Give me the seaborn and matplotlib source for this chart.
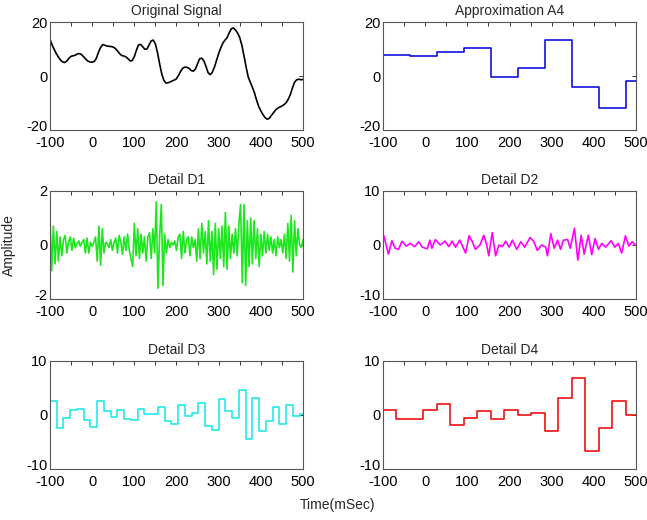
import numpy as np
import pandas as pd
import matplotlib
matplotlib.use("Agg")
import matplotlib.pyplot as plt
import matplotlib.transforms as mtransforms
import seaborn as sns

# ---------------- data ----------------
orig_t = [-100, -95, -90, -85, -80, -75, -70, -65, -60, -55, -50, -45, -40, -35, -30, -25,
          -20, -15, -10, -5, 0, 5, 10, 15, 20, 25, 30, 35, 40, 45, 50, 55, 60, 65, 70, 75,
          80, 85, 90, 95, 100, 105, 110, 115, 120, 125, 130, 135, 140, 145, 150, 155, 160,
          165, 170, 175, 180, 185, 190, 195, 200, 205, 210, 215, 220, 225, 230, 235, 240,
          245, 250, 255, 260, 265, 270, 275, 280, 285, 290, 295, 300, 305, 310, 315, 320,
          325, 330, 335, 340, 345, 350, 355, 360, 365, 370, 375, 380, 385, 390, 395, 400,
          405, 410, 415, 420, 425, 430, 435, 440, 445, 450, 455, 460, 465, 470, 475, 480,
          485, 490, 495, 500]
orig_v = [13.6, 11.5, 9.8, 8.3, 7.0, 5.9, 5.2, 5.0, 5.6, 6.6, 7.3, 7.5, 7.7, 8.2, 8.3, 7.9,
          7.1, 6.2, 5.5, 5.2, 5.1, 5.4, 6.6, 8.8, 10.6, 11.6, 11.4, 11.1, 11.0, 10.9, 10.7,
          10.2, 9.3, 8.3, 7.6, 7.4, 7.1, 6.4, 5.6, 5.7, 7.2, 9.6, 11.5, 11.7, 10.8, 9.9,
          10.0, 11.5, 13.0, 13.3, 11.8, 8.6, 4.5, 0.8, -1.6, -2.6, -2.5, -2.2, -1.8, -1.5,
          -1.0, 0.3, 1.8, 2.9, 3.3, 3.2, 2.8, 2.0, 1.8, 2.6, 4.6, 6.4, 6.6, 5.6, 3.5, 1.2,
          0.5, 1.4, 3.3, 5.8, 8.3, 10.4, 12.2, 13.3, 14.2, 16.0, 17.5, 17.8, 17.0, 15.9,
          14.2, 11.4, 7.5, 3.4, -0.3, -2.3, -4.2, -6.3, -9.0, -11.3, -12.9, -14.3, -15.4,
          -16.0, -15.7, -14.6, -13.6, -12.6, -11.9, -11.5, -11.1, -10.6, -9.9, -8.6, -6.9,
          -4.4, -2.3, -1.4, -1.2, -1.4, -1.3]

a4_edges = [-100, -36, 28, 92, 156, 220, 284, 348, 412, 476, 500]
a4_levels = [7.8, 7.5, 8.9, 10.5, -0.3, 3.1, 13.3, -4.1, -11.8, -1.8]

d1_values = [1.0, -0.95, 0.7, -0.7, 0.5, -0.6, 0.3, -0.4, 0.2, 0.35,
             -0.3, 0.1, 0.3, -0.2, 0.25, -0.1, 0.05, 0.15, -0.05, 0.1,
             0.2, -0.3, 0.25, -0.3, 0.1, -0.05, 0.1, 0.3, -0.6, 0.7,
             -0.75, 0.6, -0.3, 0.1, 0.05, -0.1, 0.2, -0.2, 0.1, 0.25,
             -0.3, 0.35, 0.1, -0.35, 0.3, -0.2, 0.4, -0.2, -0.5, -0.8,
             0.8, -0.4, 0.6, -0.5, 0.4, -0.3, 0.3, -0.6, 0.3, 0.45,
             -0.5, 0.6, -0.3, 1.6, -1.6, 0.3, 1.5, -1.5, 0.4, -0.3,
             0.2, -0.1, 0.1, 0.0, 0.15, -0.2, 0.3, 0.4, -0.5, 0.5,
             -0.3, 0.2, 0.3, -0.4, 0.3, -0.1, 0.2, -0.6, 0.6, -0.5,
             0.8, -0.3, 0.5, -0.7, 0.9, -0.6, 0.5, -1.1, 0.8, -0.9,
             0.6, -0.5, 0.7, -0.8, 1.2, -0.9, 0.7, -0.5, 0.4, -0.3,
             0.6, -0.4, 0.8, 1.5, -1.4, 1.5, -1.5, 0.9, -0.8, 1.0,
             -0.7, 0.9, -0.5, 0.6, -0.8, 0.4, -0.4, 0.5, -0.3, 0.4,
             -0.2, 0.3, -0.3, 0.2, -0.4, 0.3, -0.1, 0.2, -0.3, 0.4,
             -0.5, 0.8, -0.6, 1.1, -1.0, 0.9, -0.4, 0.6, 0.0, -0.1,
             0.2]

d2_t = [-100, -98, -87, -79, -71, -63, -55, -45, -35, -25, -15, -7, 5, 11, 16, 24, 36, 47,
        56, 64, 72, 82, 96, 104, 112, 119, 130, 139, 145, 151, 159, 167, 175, 183, 191, 199,
        207, 217, 227, 236, 249, 258, 266, 276, 286, 290, 298, 306, 314, 321, 328, 338, 344,
        354, 362, 370, 377, 387, 395, 403, 411, 419, 428, 441, 450, 458, 466, 475, 483, 491,
        500]
d2_v = [1.8, 1.7, -1.7, 0.8, -0.6, -0.8, 0.7, -0.2, 0.3, -0.3, 0.6, -0.4, -0.7, 0.9, -0.6,
        1.0, 0.0, 0.7, -0.3, 0.7, -0.4, 0.9, -1.5, 1.7, 0.6, -0.8, 0.0, 1.8, 0.3, -2.0, 2.3,
        -2.0, 0.0, -0.3, 0.7, -0.4, 0.9, -0.8, 0.6, -0.4, 1.4, 0.6, -1.0, 0.0, -0.4, -2.0,
        2.1, -0.6, 0.9, -0.8, 0.9, 1.0, -0.6, 3.1, -2.8, 1.8, -1.7, 1.8, -1.8, 1.2, -0.8,
        0.3, -0.4, 0.8, -0.4, 0.3, -1.5, 1.7, -0.2, 0.6, -0.1]

d3_edges = [-100, -84, -68, -52, -36, -20, -4, 12, 28, 44, 60, 76, 92, 108, 124, 140, 156,
            172, 188, 204, 220, 236, 252, 268, 284, 300, 316, 332, 348, 364, 380, 396, 412,
            428, 444, 460, 476, 492, 500]
d3_levels = [2.6, -2.4, -0.6, 0.9, 1.2, -0.9, -2.3, 2.6, 0.7, -0.4, 0.9, -0.8, -0.9, 1.1,
             0.1, 0.1, 1.4, -1.1, -1.6, 1.9, -0.2, 0.4, 2.3, -2.0, -2.7, 2.9, 0.7, -0.5,
             4.7, -4.5, 3.1, -2.9, -1.2, 1.5, -1.7, 1.8, -0.1, 0.2]

d4_edges = [-100, -68, -36, -4, 28, 60, 92, 124, 156, 188, 220, 252, 284, 316, 348, 380,
            412, 444, 476, 500]
d4_levels = [0.9, -0.7, -0.7, 0.9, 2.0, -1.8, -0.5, 0.8, -0.7, 1.0, 0.0, 0.3, -3.0, 3.2,
             6.8, -6.7, -2.4, 2.6, 0.0]

titles = ["Original Signal", "Approximation A4", "Detail D1", "Detail D2", "Detail D3", "Detail D4"]
ylims = [(-20, 20), (-20, 20), (-2, 2), (-10, 10), (-10, 10), (-10, 10)]
yticks = [[-20, 0, 20], [-20, 0, 20], [-2, 0, 2], [-10, 0, 10], [-10, 0, 10], [-10, 0, 10]]
colors = ["#000000", "#1010e0", "#1ee61e", "#ff00ff", "#22eaea", "#ee1111"]
xtick_pos = list(range(-100, 501, 50))


def step_frame(edges, levels):
    return pd.DataFrame({"t": edges, "v": list(levels) + [levels[-1]]})


frames = [
    (pd.DataFrame({"t": orig_t, "v": orig_v}), None),
    (step_frame(a4_edges, a4_levels), "steps-post"),
    (pd.DataFrame({"t": np.arange(-100, 501, 4), "v": d1_values}), None),
    (pd.DataFrame({"t": d2_t, "v": d2_v}), None),
    (step_frame(d3_edges, d3_levels), "steps-post"),
    (step_frame(d4_edges, d4_levels), "steps-post"),
]

# ---------------- drawing ----------------
sns.set_theme(style="white")
plt.rcParams["font.family"] = ["Liberation Sans", "DejaVu Sans"]

fig = plt.figure(figsize=(6.47, 5.20), dpi=100)
W, H = 647, 520
lefts = [50, 383]
tops = [22, 191, 361]
aw, ah = 253, 108
lift = mtransforms.ScaledTranslation(0, 3 / 72, fig.dpi_scale_trans)

for i, ((df, ds), title, yl, yt, col) in enumerate(zip(frames, titles, ylims, yticks, colors)):
    r, c = divmod(i, 2)
    ax = fig.add_axes([lefts[c] / W, 1 - (tops[r] + ah) / H, aw / W, ah / H])
    kw = {"drawstyle": ds} if ds else {}
    sns.lineplot(data=df, x="t", y="v", ax=ax, color=col, linewidth=1.2,
                 estimator=None, sort=False, **kw)
    ax.set_xlim(-100, 500)
    ax.set_ylim(*yl)
    ax.set_xticks(xtick_pos)
    ax.set_xticklabels([str(v) if v % 100 == 0 else "" for v in xtick_pos])
    ax.set_yticks(yt)
    ax.set_yticklabels([str(v) for v in yt])
    ax.set_xlabel("")
    ax.set_ylabel("")
    ax.set_title(title, fontsize=10, pad=5)
    ax.tick_params(axis="both", direction="in", length=3, width=0.7, labelsize=10.5,
                   top=True, right=True, colors="#333333", labelcolor="black")
    ax.tick_params(axis="y", pad=2)
    ax.tick_params(axis="x", pad=4.5)
    lab = ax.get_yticklabels()[0]
    lab.set_transform(lab.get_transform() + lift)
    for s in ax.spines.values():
        s.set_color("#555555")
        s.set_linewidth(0.8)

fig.text(338 / W, 1 - 505 / H, "Time(mSec)", ha="center", va="center", fontsize=10)
fig.text(9 / W, 1 - 245 / H, "Amplitude", ha="center", va="center", rotation=90, fontsize=10)

fig.savefig("out.png", dpi=100, facecolor="white")
